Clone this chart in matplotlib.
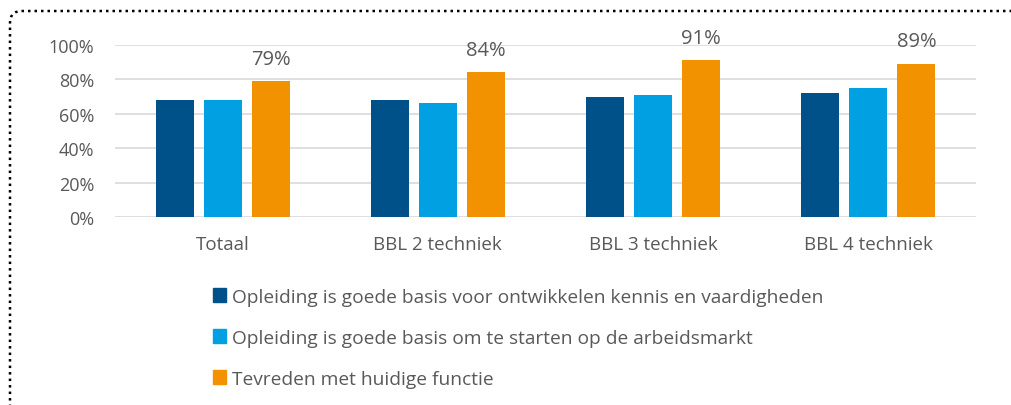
import matplotlib
matplotlib.use("Agg")
import matplotlib.pyplot as plt
import numpy as np
from matplotlib.patches import FancyBboxPatch, Patch
from matplotlib.transforms import IdentityTransform

categories = ["Totaal", "BBL 2 techniek", "BBL 3 techniek", "BBL 4 techniek"]
series_names = [
    "Opleiding is goede basis voor ontwikkelen kennis en vaardigheden",
    "Opleiding is goede basis om te starten op de arbeidsmarkt",
    "Tevreden met huidige functie",
]
ontwikkelen = [68, 68, 70, 72]
arbeidsmarkt = [68, 66, 71, 75]
tevreden = [79, 84, 91, 89]
colors = ["#005189", "#00a0e3", "#f39200"]

plt.rcParams["font.family"] = ["Open Sans", "DejaVu Sans"]
text_color = "#595959"

fig = plt.figure(figsize=(10.11, 4.06), dpi=100)
ax = fig.add_axes([0.1137, 0.463, 0.8517, 0.424])

x = np.arange(len(categories))
width = 0.177
pitch = 0.223
all_series = [ontwikkelen, arbeidsmarkt, tevreden]
bar_sets = []
for i, (vals, col) in enumerate(zip(all_series, colors)):
    bars = ax.bar(x + (i - 1) * pitch, vals, width, color=col, zorder=3)
    bar_sets.append(bars)

# only the orange series gets value labels
for b, v in zip(bar_sets[2], tevreden):
    ax.annotate(f"{v}%", (b.get_x() + b.get_width() / 2, v),
                xytext=(0, 9), textcoords="offset points",
                ha="center", va="bottom", fontsize=14.5, color=text_color)

ax.set_xlim(-0.5, 3.5)
ax.set_ylim(0, 100)
ax.set_yticks(range(0, 101, 20))
ax.set_yticklabels([f"{t}%" for t in range(0, 101, 20)])
ax.set_xticks(x)
ax.set_xticklabels(categories)
ax.tick_params(axis="both", length=0, labelsize=13.5, colors=text_color)
ax.tick_params(axis="y", labelsize=13, pad=15)
ax.tick_params(axis="x", pad=13)
ax.grid(axis="y", color="#d9d9d9", linewidth=1.2, zorder=0)
for s in ax.spines.values():
    s.set_visible(False)

handles = [Patch(color=c) for c in colors]
fig.legend(handles, series_names, loc="upper left", bbox_to_anchor=(0.201, 0.312),
           frameon=False, fontsize=13.8, labelcolor=text_color,
           handlelength=0.7, handleheight=0.7, handletextpad=0.3,
           labelspacing=1.2, borderpad=0)

# dotted frame with rounded top-left corner, open towards right and bottom
frame = FancyBboxPatch((10, -60), 1200, 406 - 12 + 60,
                       boxstyle="round,pad=0,rounding_size=12",
                       transform=IdentityTransform(), fill=False,
                       edgecolor="black", linestyle=(0, (1, 1.6)), linewidth=1.8)
fig.patches.append(frame)

fig.savefig("out.png", dpi=100)
